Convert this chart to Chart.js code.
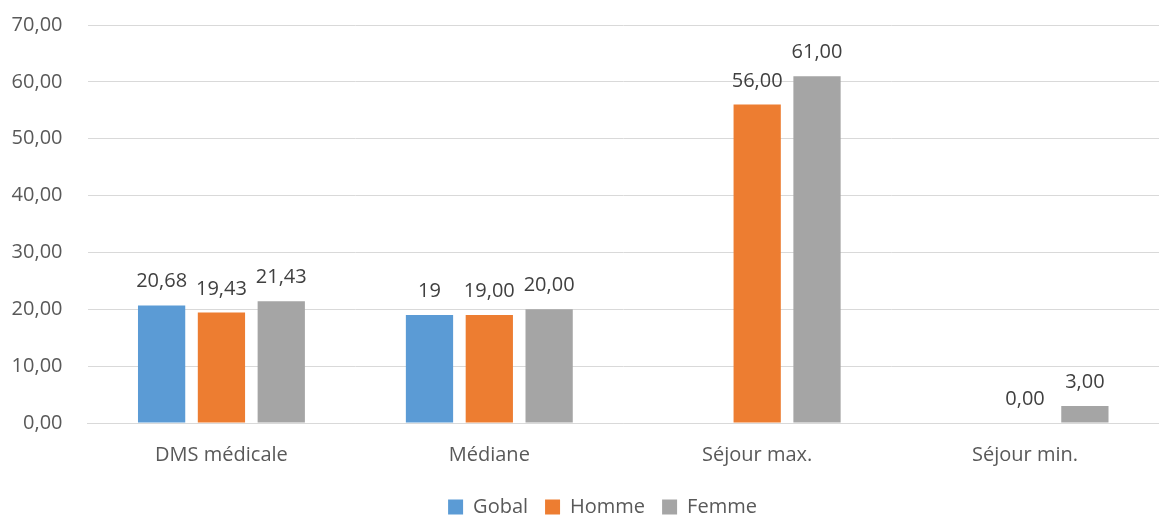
<!DOCTYPE html>
<html>
<head>
<meta charset="utf-8">
<script src="https://cdn.jsdelivr.net/npm/chart.js@4/dist/chart.umd.min.js"></script>
<style>
  html, body { margin: 0; padding: 0; background: #fff; }
  #wrap { width: 1159px; height: 515px; }
</style>
</head>
<body>
<div id="wrap"><canvas id="chart"></canvas></div>
<script>
const categories = ["DMS médicale", "Médiane", "Séjour max.", "Séjour min."];
const gobal = [20.68, 19, null, null];
const homme = [19.43, 19, 56, 0];
const femme = [21.43, 20, 61, 3];
const seriesNames = ["Gobal", "Homme", "Femme"];
const seriesColors = ["#5B9BD5", "#ED7D31", "#A5A5A5"];
// Gobal labels use general format, the others two decimals
const labelDecimals = [null, 2, 2];
const yTicks = [0, 10, 20, 30, 40, 50, 60, 70];

const FONT = "'Open Sans', sans-serif";

function frNumber(v, dec) {
  const s = dec === null ? String(v) : v.toFixed(dec);
  return s.replace(".", ",");
}

// value labels above bars
const valueLabels = {
  id: "valueLabels",
  afterDatasetsDraw(chart) {
    const ctx = chart.ctx;
    ctx.save();
    ctx.font = "20px " + FONT;
    ctx.fillStyle = "#404040";
    ctx.textAlign = "center";
    ctx.textBaseline = "alphabetic";
    chart.data.datasets.forEach((ds, i) => {
      chart.getDatasetMeta(i).data.forEach((bar, j) => {
        const v = ds.data[j];
        if (v === null || v === undefined) return;
        ctx.fillText(frNumber(v, labelDecimals[i]), bar.x, bar.y - 18);
      });
    });
    ctx.restore();
  }
};

// nudge the legend a bit to the right, like the original
const legendShift = {
  id: "legendShift",
  afterLayout(chart) {
    if (chart.legend) chart.legend.left += 33;
  }
};

const datasets = [gobal, homme, femme].map((d, i) => ({
  label: seriesNames[i],
  data: d,
  backgroundColor: seriesColors[i],
  borderWidth: 0,
  categoryPercentage: 0.67,
  barPercentage: 0.79
}));

new Chart("chart", {
  type: "bar",
  data: { labels: categories, datasets: datasets },
  options: {
    responsive: true,
    maintainAspectRatio: false,
    animation: false,
    layout: { padding: { left: 0, right: -13, top: 25, bottom: -12 } },
    plugins: {
      legend: {
        position: "bottom",
        labels: {
          boxWidth: 15,
          boxHeight: 15,
          padding: 17,
          color: "#595959",
          font: { family: FONT, size: 20 }
        }
      },
      tooltip: { enabled: false }
    },
    scales: {
      x: {
        grid: { display: false, drawTicks: false },
        border: { display: true, color: "#D9D9D9", width: 1 },
        ticks: {
          color: "#595959",
          padding: 20,
          font: { family: FONT, size: 20 }
        },
        afterFit(scale) { scale.height = 57; }
      },
      y: {
        min: 0,
        max: 70,
        afterBuildTicks(scale) { scale.ticks = yTicks.map(v => ({ value: v })); },
        grid: { color: "#D9D9D9", lineWidth: 1, drawTicks: false },
        border: { display: false },
        ticks: {
          color: "#595959",
          padding: 25,
          font: { family: FONT, size: 20 },
          callback: (v) => frNumber(v, 2)
        },
        afterFit(scale) {
          scale.width = 87.5;
          scale.paddingTop = 12;
          scale.paddingBottom = 12;
        }
      }
    }
  },
  plugins: [valueLabels, legendShift]
});
</script>
</body>
</html>
